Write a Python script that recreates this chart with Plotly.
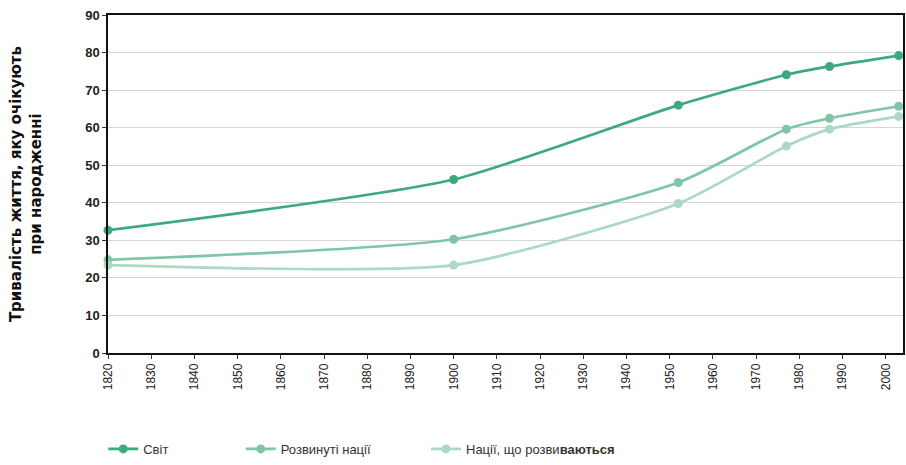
import plotly.graph_objects as go

years_world = [1820, 1900, 1952, 1977, 1987, 2003]
world = [32.7, 46.2, 66.0, 74.1, 76.3, 79.2]
developed = [24.8, 30.3, 45.4, 59.6, 62.5, 65.7]
developing = [23.4, 23.4, 39.8, 55.1, 59.6, 63.0]

tick_years = list(range(1820, 2001, 10))
y_ticks = list(range(0, 91, 10))

names = ["Світ", "Розвинуті нації", "Нації, що розви<b>ваються</b>"]
colors = ["#3daa7d", "#7fc6a6", "#acd9c3"]
series = [world, developed, developing]

FONT = "Liberation Sans Narrow, Liberation Sans, Arial, sans-serif"

fig = go.Figure()
legends = ["legend", "legend2", "legend3"]
for name, col, vals, lg in zip(names, colors, series, legends):
    fig.add_trace(go.Scatter(
        x=years_world, y=vals, name=name, mode="lines+markers",
        line=dict(color=col, width=2.7, shape="spline", smoothing=0.6),
        marker=dict(color=col, size=9),
        cliponaxis=False, legend=lg,
    ))

leg_common = dict(orientation="h", yanchor="middle", y=-0.284, xanchor="left",
                  font=dict(family=FONT, size=13, color="#333333"),
                  bgcolor="rgba(0,0,0,0)", borderwidth=0)

fig.update_layout(
    width=906, height=465,
    margin=dict(l=108, r=1, t=15, b=109),
    paper_bgcolor="white", plot_bgcolor="white",
    showlegend=True,
    legend=dict(leg_common, x=-0.006),
    legend2=dict(leg_common, x=0.167),
    legend3=dict(leg_common, x=0.40),
    xaxis=dict(
        range=[1820, 2004], tickmode="array", tickvals=tick_years,
        ticktext=[str(y) for y in tick_years], tickangle=-90,
        ticks="outside", ticklen=4, tickcolor="#333", showgrid=False,
        showline=True, linecolor="#111", linewidth=1.5, mirror=True,
        tickfont=dict(family=FONT, size=12, color="#222"),
        zeroline=False,
    ),
    yaxis=dict(
        range=[0, 90], tickmode="array", tickvals=y_ticks,
        ticks="outside", ticklen=4, tickcolor="#333",
        showgrid=True, gridcolor="#d6d6d6", gridwidth=1.2,
        showline=True, linecolor="#111", linewidth=1.5, mirror=True,
        tickfont=dict(family="Liberation Sans, Arial, sans-serif", size=13, color="#222", weight="bold"),
        zeroline=False,
    ),
    annotations=[dict(
        text="Тривалість життя, яку очікують<br>при народженні",
        xref="paper", yref="paper", x=-0.103, y=0.5,
        xanchor="center", yanchor="middle", textangle=-90, showarrow=False,
        font=dict(family="DejaVu Sans, Liberation Sans, Arial, sans-serif", size=15, color="#111", weight="bold"),
    )],
)

fig.write_html("out.html")
